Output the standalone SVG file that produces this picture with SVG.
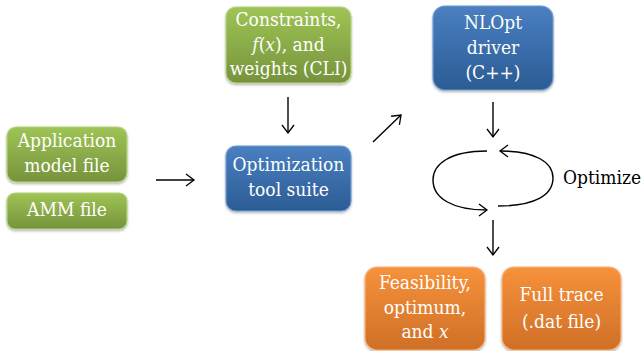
<svg xmlns="http://www.w3.org/2000/svg" width="643" height="351" viewBox="0 0 643 351">
<defs>
<linearGradient id="gG" x1="0" y1="0" x2="0" y2="1"><stop offset="0" stop-color="#9fc455"/><stop offset="1" stop-color="#76933c"/></linearGradient>
<linearGradient id="gB" x1="0" y1="0" x2="0" y2="1"><stop offset="0" stop-color="#4a7fc1"/><stop offset="1" stop-color="#2b5c94"/></linearGradient>
<linearGradient id="gO" x1="0" y1="0" x2="0" y2="1"><stop offset="0" stop-color="#f7923b"/><stop offset="1" stop-color="#cf6f27"/></linearGradient>
<filter id="sh" x="-10%" y="-10%" width="120%" height="130%"><feDropShadow dx="0" dy="1.5" stdDeviation="1.2" flood-color="#000" flood-opacity="0.3"/></filter>
<marker id="ah" markerUnits="userSpaceOnUse" markerWidth="12" markerHeight="16" refX="10" refY="7" orient="auto"><path d="M2,1 L10,7 L2,13" fill="none" stroke="#000" stroke-width="1.3"/></marker>
</defs>
<style>
.g{fill:url(#gG);stroke:#b5d27f;stroke-width:1.2;filter:url(#sh)}
.b{fill:url(#gB);stroke:#6f9bd0;stroke-width:1.2;filter:url(#sh)}
.o{fill:url(#gO);stroke:#f9b27a;stroke-width:1.2;filter:url(#sh)}
text{font-family:"DejaVu Serif",serif;font-stretch:condensed;font-size:19px;text-anchor:middle}
.w{fill:#fff}
.k{fill:#000;text-anchor:start}
.c{fill:none;stroke:#000;stroke-width:1.4}
.i{font-style:italic}
</style>
<g id="app">
<rect class="g" x="7" y="127" width="120" height="55" rx="9"/>
<text class="w" x="67" y="147">Application</text>
<text class="w" x="67" y="172">model file</text>
</g>
<g id="amm">
<rect class="g" x="7" y="193" width="120" height="36" rx="8"/>
<text class="w" x="67" y="216">AMM file</text>
</g>
<g id="constraints">
<rect class="g" x="226" y="7" width="125" height="76" rx="10"/>
<text class="w" x="288.5" y="26">Constraints,</text>
<text class="w" x="288.5" y="51"><tspan class="i">f</tspan>(<tspan class="i">x</tspan>), and</text>
<text class="w" x="288.5" y="75">weights (CLI)</text>
</g>
<g id="opt">
<rect class="b" x="226" y="146" width="125" height="65" rx="10"/>
<text class="w" x="288.5" y="171">Optimization</text>
<text class="w" x="288.5" y="196">tool suite</text>
</g>
<g id="nlopt">
<rect class="b" x="433" y="6" width="120" height="84" rx="12"/>
<text class="w" x="493" y="29">NLOpt</text>
<text class="w" x="493" y="54">driver</text>
<text class="w" x="493" y="79">(C++)</text>
</g>
<g id="loop">
<path class="c" d="M487,151 C450,151 433,164 433,180 C433,198 452,210 487,210" marker-end="url(#ah)"/>
<path class="c" d="M498,206 C535,206 553,195 553,178 C553,162 535,151 500,151" marker-end="url(#ah)"/>
<text class="k" x="563" y="184">Optimize</text>
</g>
<g id="feas">
<rect class="o" x="365" y="267" width="120" height="83" rx="12"/>
<text class="w" x="425" y="289">Feasibility,</text>
<text class="w" x="425" y="314">optimum,</text>
<text class="w" x="425" y="338">and <tspan class="i">x</tspan></text>
</g>
<g id="trace">
<rect class="o" x="502" y="267" width="119" height="83" rx="12"/>
<text class="w" x="561.5" y="301">Full trace</text>
<text class="w" x="561.5" y="328">(.dat file)</text>
</g>
<g id="connectors">
<line class="c" x1="156" y1="180" x2="194" y2="180" marker-end="url(#ah)"/>
<line class="c" x1="288" y1="97" x2="288" y2="133" marker-end="url(#ah)"/>
<line class="c" x1="373" y1="142" x2="401" y2="115" marker-end="url(#ah)"/>
<line class="c" x1="493" y1="102" x2="493" y2="137" marker-end="url(#ah)"/>
<line class="c" x1="493" y1="220" x2="493" y2="255" marker-end="url(#ah)"/>
</g>
</svg>
